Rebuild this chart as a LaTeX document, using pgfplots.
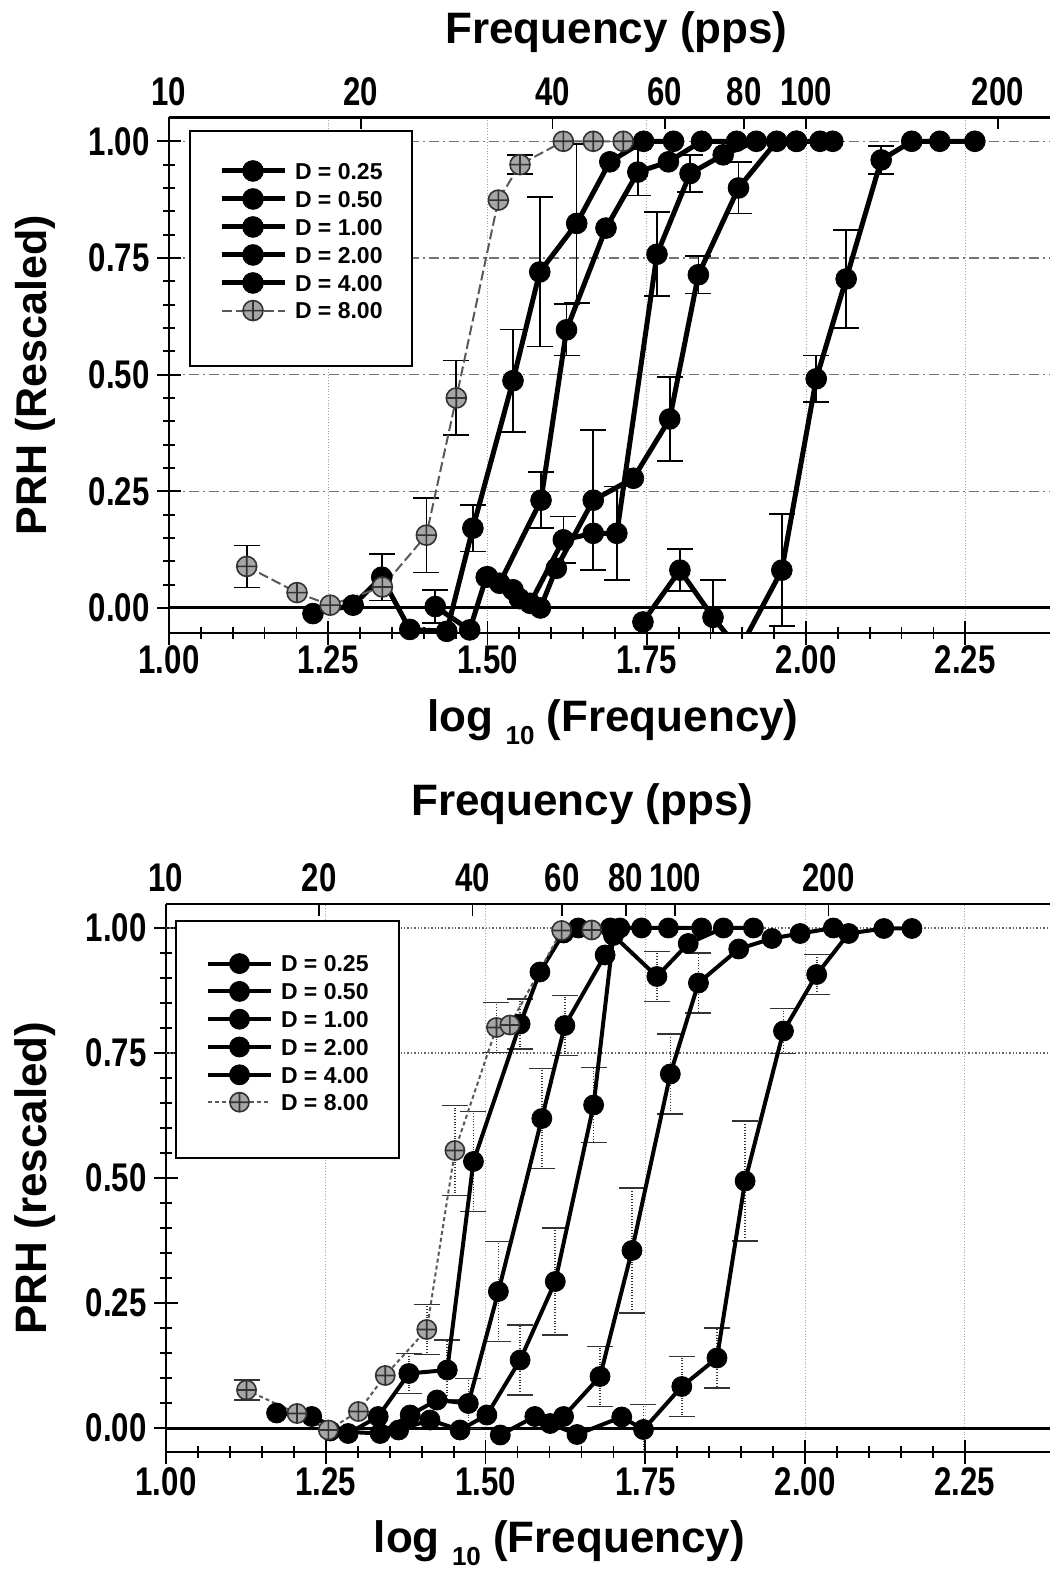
\documentclass[border=0pt]{standalone}
\usepackage{pgfplots}
\pgfplotsset{compat=1.18}
\usepackage{fontspec}
\setmainfont{Liberation Sans}
\newfontfamily\condfam{Liberation Sans}[FakeStretch=0.78]
\newcommand\tickfont{\condfam\bfseries\fontsize{20}{20}\selectfont}
\newcommand\labfont{\bfseries\fontsize{22}{22}\selectfont}
\newcommand\legfont{\bfseries\fontsize{11.5}{11.5}\selectfont}

\pgfplotsset{
  common/.style={
    scale only axis, anchor=south west,
    xmin=1, xmax=2.383,
    /pgf/number format/assume math mode=true,
    axis line style={line width=1.4pt, black},
  },
  lower/.style={common,
    axis x line*=bottom, axis y line*=left,
    xtick={1,1.25,1.5,1.75,2,2.25},
    ytick={0,0.25,0.5,0.75,1},
    minor x tick num=4, minor y tick num=4,
    tick align=center,
    major tick length=12pt, minor tick length=6pt,
    tick style={black, line width=0.9pt},
    xticklabel style={font=\tickfont, anchor=center, inner sep=0pt, /pgf/number format/fixed, /pgf/number format/fixed zerofill, /pgf/number format/precision=2},
    yticklabel style={font=\tickfont, anchor=east, inner sep=0pt, xshift=-3.5pt, /pgf/number format/fixed, /pgf/number format/fixed zerofill, /pgf/number format/precision=2},
    xmajorgrids, x grid style={densely dotted, black!35, line width=0.5pt},
    xlabel style={font=\labfont, anchor=center},
    ylabel style={font=\labfont, anchor=center},
    legend cell align=left,
    legend style={draw=black, line width=1pt, fill=white, anchor=north west, column sep=4pt,
      nodes={inner sep=0pt, text height=8.2pt, text depth=0pt, font=\legfont}},
    legend image code/.code={\draw[mark repeat=2, mark phase=2, ##1] plot coordinates {(0pt,0pt) (15.75pt,0pt) (31.5pt,0pt)};},
  },
  upper/.style={common,
    axis x line*=top, axis y line=none, ymin=0, ymax=1,
    xticklabel pos=upper,
    tick align=inside, major tick length=6pt,
    tick style={black, line width=0.9pt},
    xticklabels={10,20,40,60,80,100,200},
    xticklabel style={font=\tickfont, anchor=center, inner sep=0pt},
    xlabel={Frequency (pps)},
    xlabel style={font=\labfont, anchor=center},
  },
  blk/.style={black, line width=2.5pt, mark=*, mark size=5.2pt, mark options={solid, fill=black, line width=0.4pt}},
  gry/.style={black!65, line width=1pt, dash pattern=on 5pt off 2pt, mark=oplus*, mark size=5pt, mark options={solid, fill=gray!70, draw=black!80, line width=0.8pt}},
  ebar/.style={draw=none, mark=none, forget plot, error bars/.cd, y dir=both, y explicit,
     error bar style={draw=black, solid, line width=0.8pt},
     error mark options={draw=black, solid, rotate=90, mark size=6.5pt, line width=0.8pt}},
  ebard/.style={draw=none, mark=none, forget plot, error bars/.cd, y dir=both, y explicit,
     error bar style={draw=black!80, densely dotted, line width=0.8pt},
     error mark options={draw=black!80, solid, rotate=90, mark size=6.5pt, line width=0.8pt}},
}

\begin{document}
\begin{tikzpicture}
% ================= TOP PANEL =================
\begin{axis}[lower, at={(84.5pt,468pt)}, width=440.5pt, height=257.75pt,
  ymin=-0.0536, ymax=1.051,
  ymajorgrids, y grid style={dash pattern=on 5pt off 2pt on 1pt off 2pt, black!55, line width=0.7pt},
  xticklabel style={yshift=-7.5pt},
  xlabel={log\ \raisebox{-0.55ex}{\fontsize{13}{13}\selectfont 10} (Frequency)},
  xlabel style={at={(axis description cs:0.504,0)}, yshift=-44.5pt},
  ylabel={PRH (Rescaled)},
  ylabel style={at={(axis description cs:-0.152,0.5)}, font=\bfseries\fontsize{21.5}{21.5}\selectfont},
  legend style={at={(axis description cs:0.0227,0.9758)}, inner xsep=14.5pt, inner ysep=14.8pt, row sep=3.6pt},
]
\addplot[forget plot, black, line width=1.5pt] coordinates {(1,0) (2.383,0)};
\addplot[ebar] coordinates {
 (1.802,0.081) +- (0,0.045) (1.854,-0.02) +- (0,0.08) (1.962,0.081) +- (0,0.12)
 (2.016,0.491) +- (0,0.05) (2.063,0.705) +- (0,0.105) (2.118,0.96) +- (0,0.03)
 (1.666,0.231) +- (0,0.15) (1.786,0.405) +- (0,0.09) (1.831,0.714) +- (0,0.04)
 (1.894,0.90) +- (0,0.055) (1.703,0.16) +- (0,0.1) (1.766,0.758) +- (0,0.09)
 (1.818,0.931) +- (0,0.04) (1.619,0.146) +- (0,0.05) (1.418,0.003) +- (0,0.035)
 (1.584,0.231) +- (0,0.06) (1.624,0.596) +- (0,0.055) (1.736,0.934) +- (0,0.05)
 (1.334,0.066) +- (0,0.05) (1.477,0.171) +- (0,0.05) (1.54,0.487) +- (0,0.11)
 (1.582,0.72) +- (0,0.16) (1.64,0.824) +- (0,0.17) (1.122,0.089) +- (0,0.045)
 (1.404,0.156) +- (0,0.08) (1.451,0.45) +- (0,0.08) (1.551,0.95) +- (0,0.02)
};
% D = 0.25
\addplot[blk] coordinates {(1.744,-0.03) (1.802,0.081) (1.854,-0.02) (1.895,-0.09) (1.962,0.081) (2.016,0.491) (2.063,0.705) (2.118,0.96) (2.166,1.0) (2.21,1.0) (2.265,1.0)};
\addlegendentry{D = 0.25}
% D = 0.50
\addplot[blk] coordinates {(1.55,0.02) (1.583,0.0) (1.608,0.085) (1.666,0.231) (1.729,0.278) (1.786,0.405) (1.831,0.714) (1.894,0.90) (1.954,1.0) (1.985,1.0) (2.022,1.0) (2.042,1.0)};
\addlegendentry{D = 0.50}
% D = 1.00
\addplot[blk] coordinates {(1.50,0.067) (1.54,0.039) (1.567,0.01) (1.619,0.146) (1.666,0.16) (1.703,0.16) (1.766,0.758) (1.818,0.931) (1.870,0.971) (1.922,1.0) (1.985,1.0)};
\addlegendentry{D = 1.00}
% D = 2.00
\addplot[blk] coordinates {(1.418,0.003) (1.472,-0.047) (1.498,0.066) (1.519,0.053) (1.584,0.231) (1.624,0.596) (1.686,0.814) (1.736,0.934) (1.784,0.956) (1.836,1.0) (1.891,1.0)};
\addlegendentry{D = 2.00}
% D = 4.00
\addplot[blk] coordinates {(1.226,-0.012) (1.289,0.006) (1.334,0.066) (1.378,-0.046) (1.436,-0.05) (1.477,0.171) (1.54,0.487) (1.582,0.72) (1.64,0.824) (1.692,0.956) (1.745,1.0) (1.792,1.0)};
\addlegendentry{D = 4.00}
% D = 8.00
\addplot[gry] coordinates {(1.122,0.089) (1.201,0.033) (1.253,0.006) (1.335,0.045) (1.404,0.156) (1.451,0.45) (1.517,0.874) (1.551,0.95) (1.619,1.0) (1.666,1.0) (1.713,1.0)};
\addlegendentry{D = 8.00}
\addlegendimage{empty legend}
\addlegendentry[text height=4.4pt]{}
\end{axis}
\begin{axis}[upper, at={(84.5pt,468pt)}, width=440.5pt, height=257.75pt,
  xtick={1,1.30103,1.60206,1.77815,1.90309,2,2.30103},
  xticklabel style={yshift=12.75pt},
  xlabel style={at={(axis description cs:0.508,1)}, yshift=42.75pt},
]
\end{axis}

% ================= BOTTOM PANEL =================
\begin{axis}[lower, at={(83pt,58.5pt)}, width=442pt, height=274pt,
  ymin=-0.048, ymax=1.048,
  xticklabel style={yshift=-9pt},
  xlabel={log\ \raisebox{-0.55ex}{\fontsize{13}{13}\selectfont 10} (Frequency)},
  xlabel style={at={(axis description cs:0.445,0)}, yshift=-45.5pt},
  ylabel={PRH (rescaled)},
  ylabel style={at={(axis description cs:-0.148,0.5)}},
  legend style={at={(axis description cs:0.0102,0.9708)}, inner xsep=15pt, inner ysep=16.3pt, row sep=3.9pt},
  blk/.append style={line width=2pt, mark size=5pt},
  gry/.append style={mark size=4.8pt, dash pattern=on 2pt off 1.5pt},
]
\addplot[forget plot, black!60, densely dotted, line width=0.7pt] coordinates {(1,1) (2.383,1)};
\addplot[forget plot, black!60, densely dotted, line width=0.7pt] coordinates {(1,0.75) (2.383,0.75)};
\addplot[forget plot, black, line width=1.5pt] coordinates {(1,0) (2.383,0)};
\addplot[ebard] coordinates {
 (1.807,0.083) +- (0,0.06) (1.862,0.14) +- (0,0.06) (1.906,0.494) +- (0,0.12)
 (1.966,0.794) +- (0,0.045) (2.018,0.907) +- (0,0.04) (1.747,-0.003) +- (0,0.05)
 (1.679,0.103) +- (0,0.06) (1.729,0.355) +- (0,0.125) (1.789,0.708) +- (0,0.08)
 (1.833,0.89) +- (0,0.06) (1.554,0.136) +- (0,0.07) (1.609,0.293) +- (0,0.107)
 (1.669,0.646) +- (0,0.075) (1.768,0.903) +- (0,0.05) (1.52,0.273) +- (0,0.1)
 (1.588,0.619) +- (0,0.1) (1.624,0.805) +- (0,0.06) (1.473,0.049) +- (0,0.05)
 (1.38,0.109) +- (0,0.04) (1.44,0.116) +- (0,0.06) (1.481,0.533) +- (0,0.1)
 (1.554,0.808) +- (0,0.05) (1.408,0.197) +- (0,0.05) (1.452,0.555) +- (0,0.09)
 (1.517,0.801) +- (0,0.05) (1.126,0.076) +- (0,0.02)
};
% D = 0.25
\addplot[blk] coordinates {(1.601,0.009) (1.643,-0.013) (1.713,0.022) (1.747,-0.003) (1.807,0.083) (1.862,0.14) (1.906,0.494) (1.966,0.794) (2.018,0.907) (2.068,0.989) (2.123,0.999) (2.167,0.999)};
\addlegendentry{D = 0.25}
% D = 0.50
\addplot[blk] coordinates {(1.523,-0.014) (1.577,0.023) (1.622,0.023) (1.679,0.103) (1.729,0.355) (1.789,0.708) (1.833,0.89) (1.896,0.958) (1.948,0.979) (1.992,0.989) (2.044,1.0)};
\addlegendentry{D = 0.50}
% D = 1.00
\addplot[blk] coordinates {(1.364,-0.004) (1.413,0.016) (1.46,-0.004) (1.502,0.026) (1.554,0.136) (1.609,0.293) (1.669,0.646) (1.70,0.985) (1.768,0.903) (1.817,0.969) (1.872,1.0) (1.919,1.0)};
\addlegendentry{D = 1.00}
% D = 2.00
\addplot[blk] coordinates {(1.257,-0.006) (1.335,-0.011) (1.382,0.026) (1.424,0.056) (1.473,0.049) (1.52,0.273) (1.588,0.619) (1.624,0.805) (1.687,0.946) (1.71,1.0) (1.786,1.0) (1.838,1.0)};
\addlegendentry{D = 2.00}
% D = 4.00
\addplot[blk] coordinates {(1.173,0.03) (1.228,0.023) (1.285,-0.011) (1.332,0.023) (1.38,0.109) (1.44,0.116) (1.481,0.533) (1.554,0.808) (1.585,0.912) (1.622,0.99) (1.645,1.0) (1.695,1.0) (1.744,1.0)};
\addlegendentry{D = 4.00}
% D = 8.00
\addplot[gry] coordinates {(1.126,0.076) (1.205,0.029) (1.254,-0.004) (1.301,0.033) (1.343,0.105) (1.408,0.197) (1.452,0.555) (1.517,0.801) (1.538,0.806) (1.619,0.995) (1.666,0.996)};
\addlegendentry{D = 8.00}
\addlegendimage{empty legend}
\addlegendentry[text height=3.1pt]{}
\end{axis}
\begin{axis}[upper, at={(83pt,58.5pt)}, width=442pt, height=274pt,
  xtick={1,1.2398,1.4796,1.6198,1.7193,1.7966,2.0364},
  xticklabel style={yshift=13pt},
  xlabel style={at={(axis description cs:0.471,1)}, yshift=50pt},
]
\end{axis}
\pgfresetboundingbox
\path (0pt,0pt) rectangle (525pt,784.5pt);
\end{tikzpicture}
\end{document}
